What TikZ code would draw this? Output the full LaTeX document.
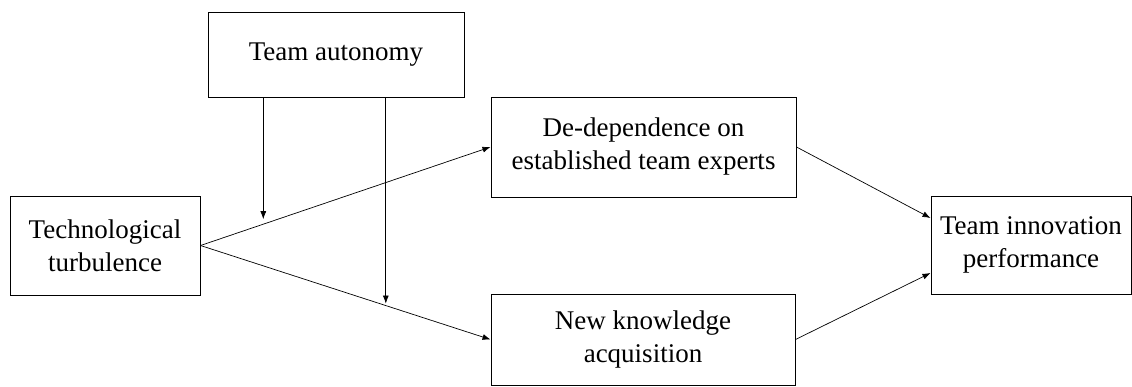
\documentclass[tikz,border=0pt]{standalone}
\usepackage{fontspec}
\setmainfont{Liberation Serif}
\usetikzlibrary{positioning}
\usetikzlibrary{arrows.meta}

\tikzset{
  box/.style={draw,line width=1pt,align=center,inner sep=0pt,
    font=\fontsize{27}{33}\selectfont},
  link/.style={line width=.7pt,-{Latex[length=8pt,width=6pt]}}
}

\begin{document}
\begin{tikzpicture}[x=1pt,y=-1pt]
  \useasboundingbox (0,0) rectangle (1132,386);

  % moderator
  \node[box,minimum width=256pt,minimum height=85pt] at (336,54.5) (auto) {Team autonomy};

  % predictor
  \node[box,minimum width=190pt,minimum height=99pt] at (105,245.5) (tech) {Technological\\ turbulence};

  % mediators
  \node[box,minimum width=305pt,minimum height=100pt] at (643.5,147) (dedep) {De-dependence on\\ established team experts};
  \node[box,minimum width=304pt,minimum height=91pt] at (643,339.5) (nk) {New knowledge\\ acquisition};

  % outcome
  \node[box,minimum width=200pt,minimum height=98pt] at (1031,245) (perf) {Team innovation\\ performance};

  % paths
  \draw[link] (tech.east) -- (dedep.west) coordinate[pos=.2165] (m1);
  \draw[link] (tech.east) -- (nk.west) coordinate[pos=.639] (m2);
  \draw[link] (dedep.east) -- ([yshift=27pt]perf.west);
  \draw[link] (nk.east) -- ([yshift=-28pt]perf.west);

  % moderation arrows
  \draw[link,shorten >=5pt] (auto.south -| m1) -- (m1);
  \draw[link,shorten >=2pt] (auto.south -| m2) -- (m2);

\end{tikzpicture}
\end{document}
